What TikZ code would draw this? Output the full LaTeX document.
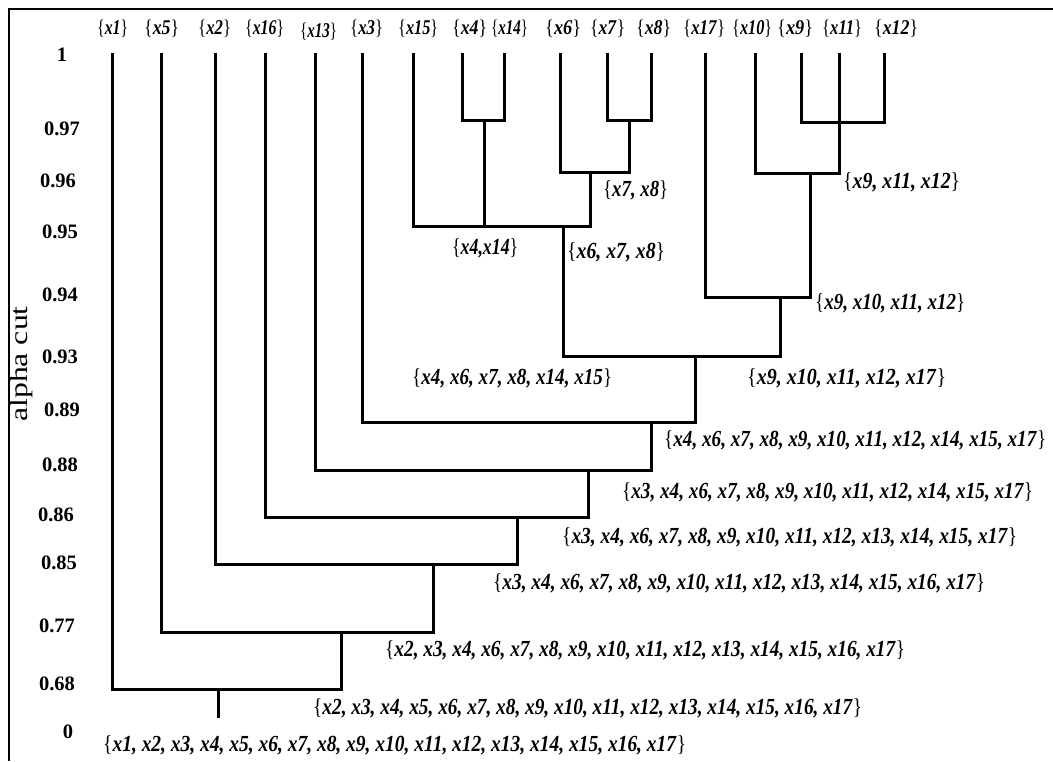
\documentclass[tikz,border=0pt]{standalone}
\usepackage{fontspec}
\setmainfont{Liberation Serif}
\usepackage{graphicx}
\newlength\fitlen
\newcommand\fitto[2]{\settowidth{\fitlen}{#2}\pgfmathsetmacro\fitratio{#1/\fitlen}\scalebox{\fitratio}[1]{#2}}
\newcommand\cl[1]{\{\textbf{\textit{#1}}\}}
\tikzset{
  tree/.style={line width=3pt},
  frame/.style={line width=2pt},
  clab/.style={anchor=west, inner sep=0pt, font=\fontsize{23}{23}\selectfont},
  leaf/.style={anchor=west, inner sep=0pt, font=\fontsize{21}{21}\selectfont},
  axl/.style={inner sep=0pt, font=\fontsize{20.5}{20.5}\selectfont\bfseries},
}
\begin{document}
\begin{tikzpicture}[x=1pt,y=-1pt]
\useasboundingbox (0,0) rectangle (1053,761);
\draw[frame] (8.5,761) -- (8.5,9) -- (1053,9);
% axis
\node[axl] (a1) at (62,55) {1};
\node[axl] (a97) at (62,129) {0.97};
\node[axl] (a96) at (58,181) {0.96};
\node[axl] (a95) at (60,232) {0.95};
\node[axl] (a94) at (60,295) {0.94};
\node[axl] (a93) at (60,357) {0.93};
\node[axl] (a89) at (62,410) {0.89};
\node[axl] (a88) at (60,465) {0.88};
\node[axl] (a86) at (56,515) {0.86};
\node[axl] (a85) at (59,563) {0.85};
\node[axl] (a77) at (57,626) {0.77};
\node[axl] (a68) at (57,684) {0.68};
\node[axl] (a0) at (68,732) {0};
\node[inner sep=0pt, rotate=90, font=\fontsize{25}{25}\selectfont] (ac) at (21,364) {\scalebox{1.27}[1]{alpha cut}};
% leaves
\coordinate (x1) at (112,53);
\coordinate (x5) at (161,53);
\coordinate (x2) at (215,53);
\coordinate (x16) at (265,53);
\coordinate (x13) at (315,53);
\coordinate (x3) at (362,53);
\coordinate (x15) at (413,53);
\coordinate (x4) at (462,53);
\coordinate (x14) at (504,53);
\coordinate (x6) at (560,53);
\coordinate (x7) at (607,53);
\coordinate (x8) at (651,53);
\coordinate (x17) at (705,53);
\coordinate (x10) at (755,53);
\coordinate (x9) at (801,53);
\coordinate (x11) at (839,53);
\coordinate (x12) at (884,53);
% leaf labels
\node[leaf] (l1) at (97,29) {\fitto{31}{\cl{x1}}};
\node[leaf] (l5) at (144,29) {\fitto{35}{\cl{x5}}};
\node[leaf] (l2) at (198,29) {\fitto{33}{\cl{x2}}};
\node[leaf] (l16) at (245,29) {\fitto{39}{\cl{x16}}};
\node[leaf] (l13) at (300,32) {\fitto{37}{\cl{x13}}};
\node[leaf] (l3) at (350,29) {\fitto{33}{\cl{x3}}};
\node[leaf] (l15) at (398,29) {\fitto{40}{\cl{x15}}};
\node[leaf] (l4) at (452,29) {\fitto{35}{\cl{x4}}};
\node[leaf] (l14) at (491,29) {\fitto{37}{\cl{x14}}};
\node[leaf] (l6) at (545,29) {\fitto{36}{\cl{x6}}};
\node[leaf] (l7) at (590,29) {\fitto{35}{\cl{x7}}};
\node[leaf] (l8) at (636,29) {\fitto{35}{\cl{x8}}};
\node[leaf] (l17) at (683,29) {\fitto{42}{\cl{x17}}};
\node[leaf] (l10) at (732,29) {\fitto{40}{\cl{x10}}};
\node[leaf] (l9) at (777,29) {\fitto{36}{\cl{x9}}};
\node[leaf] (l11) at (822,29) {\fitto{40}{\cl{x11}}};
\node[leaf] (l12) at (874,29) {\fitto{44}{\cl{x12}}};
% junctions
\coordinate (J1) at (484,120);
\coordinate (J2) at (629,120);
\coordinate (J3) at (839,122);
\coordinate (J4) at (590,172);
\coordinate (J5) at (810,173);
\coordinate (J6) at (563,226);
\coordinate (J7) at (780,297);
\coordinate (J8) at (695,356);
\coordinate (J9) at (651,422);
\coordinate (J10) at (588,470);
\coordinate (J11) at (517,517);
\coordinate (J12) at (433,564);
\coordinate (J13) at (341,632);
\coordinate (J14) at (218,689);
\coordinate (root) at (218,718);
% tree
\draw[tree] (x4) |- (J1) -| (x14);
\draw[tree] (x7) |- (J2) -| (x8);
\draw[tree] (x9) |- (J3) -| (x12);
\draw[tree] (x11) -- (J3);
\draw[tree] (x6) |- (J4) -| (J2);
\draw[tree] (x10) |- (J5) -| (J3);
\draw[tree] (x15) |- (J6) -| (J4);
\draw[tree] (J1) -- (J1 |- J6);
\draw[tree] (x17) |- (J7) -| (J5);
\draw[tree] (J6) |- (J8) -| (J7);
\draw[tree] (x3) |- (J9) -| (J8);
\draw[tree] (x13) |- (J10) -| (J9);
\draw[tree] (x16) |- (J11) -| (J10);
\draw[tree] (x2) |- (J12) -| (J11);
\draw[tree] (x5) |- (J13) -| (J12);
\draw[tree] (x1) |- (J14) -| (J13);
\draw[tree] (J14) -- (root);
% cluster labels
\node[clab] (c78) at (603,190) {\fitto{65}{\cl{x7, x8}}};
\node[clab] (c91112) at (843,182) {\fitto{117}{\cl{x9, x11, x12}}};
\node[clab] (c414) at (452,248) {\fitto{66}{\cl{x4,x14}}};
\node[clab] (c678) at (567,252) {\fitto{98}{\cl{x6, x7, x8}}};
\node[clab] (c9101112) at (815,303) {\fitto{150}{\cl{x9, x10, x11, x12}}};
\node[clab] (cA) at (412,378) {\fitto{200}{\cl{x4, x6, x7, x8, x14, x15}}};
\node[clab] (cB) at (747,378) {\fitto{199}{\cl{x9, x10, x11, x12, x17}}};
\node[clab] (cC) at (664,440) {\fitto{382}{\cl{x4, x6, x7, x8, x9, x10, x11, x12, x14, x15, x17}}};
\node[clab] (cD) at (622,492) {\fitto{411}{\cl{x3, x4, x6, x7, x8, x9, x10, x11, x12, x14, x15, x17}}};
\node[clab] (cE) at (562,537) {\fitto{455}{\cl{x3, x4, x6, x7, x8, x9, x10, x11, x12, x13, x14, x15, x17}}};
\node[clab] (cF) at (493,583) {\fitto{492}{\cl{x3, x4, x6, x7, x8, x9, x10, x11, x12, x13, x14, x15, x16, x17}}};
\node[clab] (cG) at (385,650) {\fitto{520}{\cl{x2, x3, x4, x6, x7, x8, x9, x10, x11, x12, x13, x14, x15, x16, x17}}};
\node[clab] (cH) at (313,708) {\fitto{549}{\cl{x2, x3, x4, x5, x6, x7, x8, x9, x10, x11, x12, x13, x14, x15, x16, x17}}};
\node[clab] (cI) at (103,745) {\fitto{583}{\cl{x1, x2, x3, x4, x5, x6, x7, x8, x9, x10, x11, x12, x13, x14, x15, x16, x17}}};
\end{tikzpicture}
\end{document}
